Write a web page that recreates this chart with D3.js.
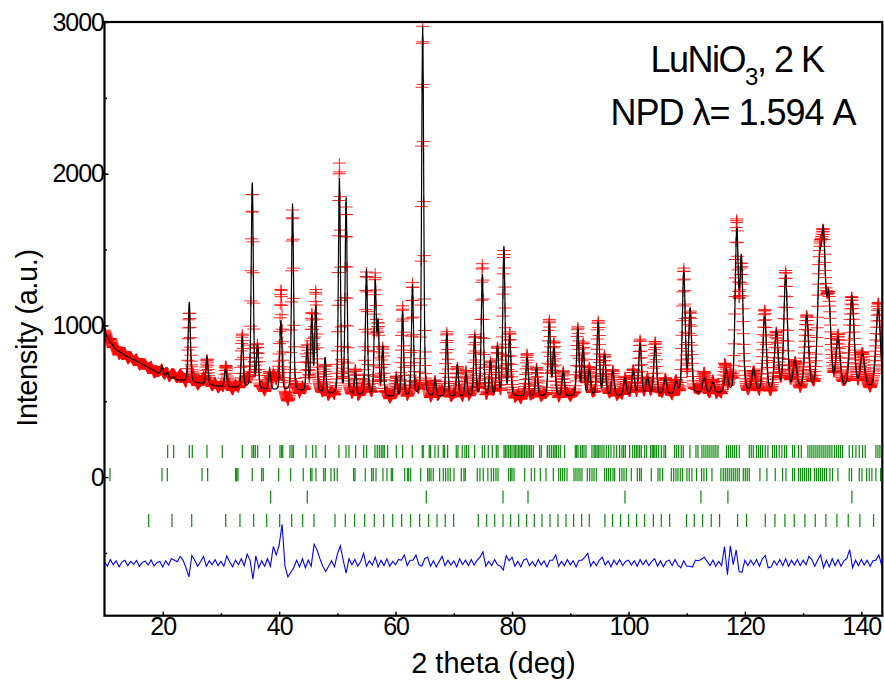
<!DOCTYPE html>
<html><head><meta charset="utf-8">
<script src="https://cdn.jsdelivr.net/npm/d3@7"></script>
<style>
body{margin:0;background:#fff}
text{font-family:Arial,"Liberation Sans",sans-serif;fill:#000}
</style>
</head><body>
<svg id="chart" width="884" height="683"></svg>
<script>
// ---------------- data ----------------
const xMajorTicks = [20,40,60,80,100,120,140];
const xMinorTicks = [30,50,70,90,110,130];
const yMajorTicks = [0,1000,2000,3000];
const yMinorTicks = [-500,500,1500,2500];
const xDomain = [10,143.6];
const yDomain = [-914,3000];

// background (2theta, counts)
const bgAngles = [10,11,12,14,16,18,20,22,25,30,35,40,45,50,60,70,80,90,100,110,120,130,143.6];
const bgCounts = [958,890,840,792,755,712,668,642,625,596,582,570,560,538,527,527,530,530,535,545,555,570,590];

// calculated peak positions (2theta) and peak-top counts
const peakPos = [19.9,20.8,21.9,24.56,27.6,30.8,33.67,35.38,36.3,38.4,40.3,42.3,44.8,45.6,46.3,47.9,
  50.35,51.5,53.1,55.0,56.5,57.0,57.8,60.1,61.2,62.9,64.65,66.8,68.8,70.6,72.1,73.6,74.9,76.3,77.5,78.6,79.6,
  82.6,84.2,86.4,87.2,88.8,91.3,92.2,93.3,94.8,95.9,97.3,99.4,100.8,102.0,103.3,104.6,106.3,108.2,109.5,110.6,
  113.0,114.5,116.8,118.6,119.4,121.5,123.4,125.4,127.0,128.6,130.6,132.8,133.5,134.4,136.0,138.4,140.2,142.9];
const peakTop = [730,690,660,1155,790,712,923,1946,859,700,1030,1800,859,1057,1120,784,
  1960,1833,686,1365,1279,1000,850,660,1088,1253,2973,640,950,738,686,936,1332,758,857,1510,923,
  790,720,1020,850,700,980,850,700,1020,800,700,650,700,880,650,870,650,620,1350,1100,
  650,620,700,1600,1420,700,1050,950,1320,750,1050,1300,1500,1150,900,1180,800,1100];
// profile width (FWHM, deg) control points
const fwhmAngles = [10,30,60,90,120,143.6];
const fwhmValues = [0.50,0.42,0.40,0.48,0.65,0.90];

// difference (obs - calc) read every 0.5 deg from 10 deg
const diffStart = 10, diffStep = 0.5, diffOffset = -568;
const diffValues = [
 10,-20,24,-10,16,-24,8,20,-16,12,-8,18,-20,6,14,-12,22,-18,4,12,
 -25,16,-12,30,20,10,45,20,-30,-90,50,20,-20,10,45,-20,16,-10,24,-16,
 12,-20,48,10,-24,20,-10,30,-16,60,20,-105,48,-30,16,-20,30,-20,110,55,
 120,257,-20,-90,-60,-30,20,-25,30,-30,20,-20,125,88,30,-20,-55,-20,16,-24,
 60,115,20,-65,30,-10,24,-20,10,65,-20,16,-12,40,-24,20,-16,28,-20,12,
 -10,24,20,55,-16,20,20,55,-10,-20,30,40,-20,16,-24,12,45,-16,20,-12,
 16,-24,30,-10,20,-16,24,-12,20,40,75,-20,12,-16,24,-10,-20,-45,50,16,
 40,-20,12,-24,20,30,-16,10,-20,24,-12,16,-24,20,20,55,-20,12,-16,24,
 -10,16,-24,20,20,40,65,-20,12,-16,20,40,-12,16,-24,20,-10,24,-16,12,
 20,-12,16,-20,24,-10,20,-16,12,30,-20,16,-24,12,20,-16,24,-12,-30,16,
 -20,-20,-25,20,16,25,40,12,-16,20,-20,12,-16,110,-75,115,-10,88,-55,-60,
 20,-16,20,-12,24,-20,30,50,-30,-25,16,-12,24,-16,30,-20,20,-12,24,-16,
 20,-10,45,24,-20,20,55,-30,20,-24,30,-16,24,-20,16,30,90,-30,20,-16,
 24,-12,20,-20,16,20,55,-15];
const obsStep = 0.05;

// Bragg reflection markers, four phases
const braggLevels = [168,16,-131,-286];
const braggHalf = 43;
const braggRow1 = [20.85,21.88,24.56,25.08,27.60,30.23,33.67,35.33,35.62,35.90,36.31,38.37,40.14,40.43,40.61,41.86,42.20,42.43,
 44.61,45.76,46.32,47.92,50.27,51.48,51.99,53.14,54.52,55.03,56.46,56.85,57.20,57.54,57.83,58.06,58.64,60.12,61.21,62.86,
 64.58,64.75,65.78,66.02,66.76,67.33,68.19,68.43,68.94,70.42,70.71,71.45,71.91,72.20,72.55,73.58,74.89,75.30,75.92,
 76.61,77.30,77.59,78.62,78.85,79.13,79.42,79.71,79.99,80.34,80.56,80.85,81.14,81.37,81.65,81.88,82.17,82.45,82.74,83.03,83.31,83.66,
 84.74,85.03,86.06,86.40,86.75,87.09,87.38,87.61,87.95,88.29,89.04,90.87,91.10,91.33,91.79,92.07,92.36,92.70,93.73,94.08,94.30,
 94.59,94.82,95.11,95.45,95.79,96.19,96.59,96.99,97.51,97.97,98.48,98.88,99.17,99.46,100.20,100.72,101.06,101.35,101.63,101.92,
 102.21,102.78,103.12,103.81,104.09,104.32,104.55,104.84,105.18,105.64,106.10,106.38,107.93,108.27,108.62,109.07,109.42,
 110.56,111.59,111.93,112.62,112.96,113.31,113.65,113.99,114.34,114.68,115.02,115.37,116.85,117.20,117.54,117.89,118.23,118.57,
 119.03,120.75,121.09,121.44,122.01,122.35,122.69,123.04,123.50,123.95,124.76,125.10,125.44,125.90,126.36,126.82,127.16,128.19,
 128.53,129.22,129.68,130.82,131.17,131.51,131.85,132.20,132.54,132.88,133.23,133.57,133.91,134.26,134.60,134.95,135.40,135.75,
 136.09,136.43,136.78,137.92,138.50,139.07,139.64,140.21,140.67,142.50,142.85,143.19];
const braggRow2 = [10.94,19.88,20.79,26.75,27.72,32.53,32.70,32.93,35.38,37.00,37.27,39.92,41.98,
 44.14,45.41,45.64,46.32,47.65,47.92,48.90,49.47,49.98,52.80,53.02,54.79,55.89,56.17,56.63,57.83,58.52,59.26,59.50,61.56,62.07,
 62.25,62.59,64.31,65.51,65.78,66.08,66.47,67.57,68.19,68.60,69.00,69.39,70.03,71.28,71.74,71.97,74.03,74.49,75.06,75.85,
 76.44,76.84,77.24,77.59,79.42,79.76,79.99,80.34,82.17,83.31,83.89,84.86,85.83,87.09,88.01,88.35,88.69,89.04,89.44,90.64,90.98,
 91.33,91.67,92.01,92.93,93.33,93.73,94.08,94.48,95.91,96.25,96.59,96.94,97.34,97.63,98.48,98.88,99.23,99.63,100.49,101.52,
 101.92,102.21,103.92,105.07,105.41,105.87,107.36,107.76,108.16,108.50,108.90,109.30,
 110.04,110.44,110.90,111.70,112.56,112.96,113.42,114.34,115.88,116.28,116.63,116.97,117.31,117.66,118.00,118.34,118.69,119.03,
 119.72,120.06,120.40,120.75,122.58,123.78,125.21,126.47,127.05,128.19,128.53,129.22,129.56,129.91,130.25,130.59,130.94,131.28,
 131.97,132.31,132.66,133.00,133.34,133.69,134.03,134.60,135.06,135.98,137.92,138.32,139.64,140.10,140.90,141.36,141.81,142.50,143.30];
const braggRow3 = [38.54,44.83,65.27,78.45,82.74,99.40,112.45,117.08,138.38];
const braggRow4 = [17.59,21.59,24.98,30.82,33.27,35.62,37.86,40.09,42.15,44.04,45.98,49.59,51.36,52.97,54.69,56.34,57.95,59.50,
 61.04,62.59,64.13,65.68,67.11,68.53,69.97,74.20,75.64,77.02,78.45,79.76,81.14,82.51,83.83,85.14,86.52,87.89,89.27,90.58,91.96,
 93.27,95.96,97.28,98.66,100.03,101.40,102.78,104.27,105.64,107.07,109.98,111.30,112.73,114.22,115.65,118.74,120.29,123.50,
 125.16,126.87,128.48,130.31,132.08,133.91,135.80,137.75,139.75,142.10];

const titleLine1 = "LuNiO";
const titleLine2 = "NPD \u03bb= 1.594 A";

// ---------------- drawing ----------------
const L = 104.5, R = 882.3, T = 22, B = 615.7;
const svg = d3.select("#chart");
const x = d3.scaleLinear().domain(xDomain).range([L,R]);
const y = d3.scaleLinear().domain(yDomain).range([B,T]);

const bgInterp = d3.scaleLinear().domain(bgAngles).range(bgCounts).clamp(true);
const fwInterp = d3.scaleLinear().domain(fwhmAngles).range(fwhmValues).clamp(true);
const peakAmp = peakPos.map((p,i)=>peakTop[i]-bgInterp(p));
const eta = 0.25;
function calc(t){
  let v = bgInterp(t);
  for(let k=0;k<peakPos.length;k++){
    const Hk = fwInterp(peakPos[k]);
    const d = (t-peakPos[k])/Hk;
    if(Math.abs(d)>12) continue;
    const gg = Math.exp(-4*Math.LN2*d*d), ll = 1/(1+4*d*d);
    v += peakAmp[k]*(eta*ll+(1-eta)*gg);
  }
  return v;
}
function diffAt(t){
  const j = (t-diffStart)/diffStep;
  const j0 = Math.max(0,Math.min(diffValues.length-1,Math.floor(j)));
  const j1 = Math.min(diffValues.length-1,j0+1);
  const f = j-j0;
  return diffValues[j0]*(1-f)+diffValues[j1]*f;
}
const nPts = Math.round((xDomain[1]-xDomain[0])/obsStep);
const pts = d3.range(nPts+1).map(i=>{
  const t = xDomain[0]+i*obsStep;
  const c = calc(t), dv = diffAt(t);
  return {t, calc:c, obs:c+dv, diff:diffOffset+dv};
});

svg.append("defs").append("clipPath").attr("id","clip")
  .append("rect").attr("x",L).attr("y",T).attr("width",R-L).attr("height",B-T);
const g = svg.append("g").attr("clip-path","url(#clip)");

// observed: red crosses
let p = "";
pts.forEach(d=>{
  const px = x(d.t), py = y(d.obs);
  p += `M${(px-6.5).toFixed(1)},${py.toFixed(1)}h13M${px.toFixed(1)},${(py-5).toFixed(1)}v10`;
});
g.append("path").attr("d",p).attr("stroke","#ff0000").attr("stroke-width",1).attr("fill","none").attr("opacity",0.85);

// calculated: black line
g.append("path").datum(pts).attr("fill","none").attr("stroke","#000").attr("stroke-width",1.2)
  .attr("d",d3.line().x(d=>x(d.t)).y(d=>y(d.calc)));

// Bragg ticks
[braggRow1,braggRow2,braggRow3,braggRow4].forEach((row,ri)=>{
  g.append("g").selectAll("line").data(row).join("line")
    .attr("x1",d=>x(d)).attr("x2",d=>x(d))
    .attr("y1",y(braggLevels[ri]+braggHalf)).attr("y2",y(braggLevels[ri]-braggHalf))
    .attr("stroke","#0a8a0a").attr("stroke-width",1.2);
});

// difference: blue line
g.append("path").datum(pts).attr("fill","none").attr("stroke","#0000ff").attr("stroke-width",1.1)
  .attr("d",d3.line().x(d=>x(d.t)).y(d=>y(d.diff)));

// axes
const fmt = d3.format("d");
const xa = svg.append("g").attr("transform",`translate(0,${B})`)
  .call(d3.axisBottom(x).tickValues(xMajorTicks).tickFormat(fmt).tickSizeInner(-4).tickSizeOuter(0).tickPadding(1.5));
const xm = svg.append("g").attr("transform",`translate(0,${B})`)
  .call(d3.axisBottom(x).tickValues(xMinorTicks).tickSizeInner(-2.5).tickSizeOuter(0).tickFormat(""));
const ya = svg.append("g").attr("transform",`translate(${L},0)`)
  .call(d3.axisLeft(y).tickValues(yMajorTicks).tickFormat(fmt).tickSizeInner(-4).tickSizeOuter(0).tickPadding(0.5));
const ym = svg.append("g").attr("transform",`translate(${L},0)`)
  .call(d3.axisLeft(y).tickValues(yMinorTicks).tickSizeInner(-2.5).tickSizeOuter(0).tickFormat(""));
[xa,xm,ya,ym].forEach(a=>{
  a.select(".domain").remove();
  a.selectAll("line").attr("stroke","#000").attr("stroke-width",1.5);
  a.selectAll("text").attr("font-size","25px").attr("letter-spacing","-1px")
    .attr("font-family","Arial, 'Liberation Sans', sans-serif").attr("fill","#000");
});

// frame
svg.append("rect").attr("x",L).attr("y",T).attr("width",R-L).attr("height",B-T)
  .attr("fill","none").attr("stroke","#000").attr("stroke-width",2.2);

// axis titles
svg.append("text").attr("x",(L+R)/2).attr("y",673).attr("text-anchor","middle")
  .attr("font-size","29px").text("2 theta (deg)");
svg.append("text").attr("transform","translate(37,338) rotate(-90)").attr("text-anchor","middle")
  .attr("font-size","29px").attr("letter-spacing","-0.4px").text("Intensity (a.u.)");

// annotation
const t1 = svg.append("text").attr("x",737).attr("y",72).attr("text-anchor","middle")
  .attr("font-size","36px").attr("letter-spacing","-1.5px");
t1.append("tspan").text(titleLine1);
t1.append("tspan").attr("font-size","24px").attr("dy",13).text("3");
t1.append("tspan").attr("dy",-13).text(", 2 K");
svg.append("text").attr("x",733).attr("y",125).attr("text-anchor","middle")
  .attr("font-size","36px").attr("letter-spacing","-1px").text(titleLine2);
</script>
</body></html>
